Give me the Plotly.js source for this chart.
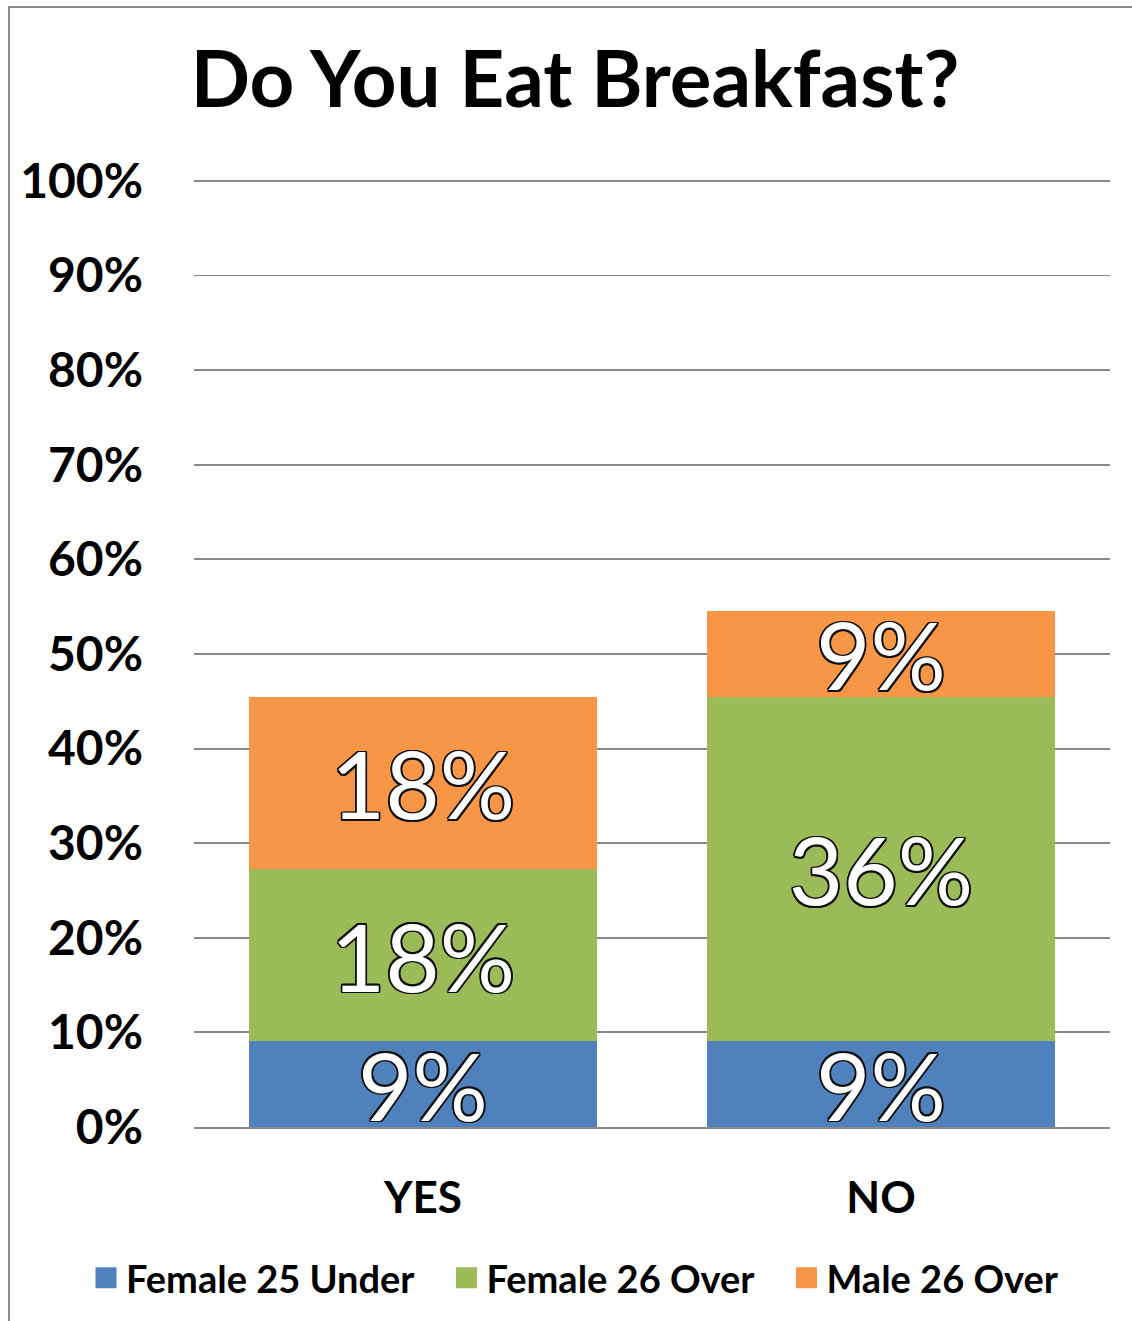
<!DOCTYPE html>
<html>
<head>
<meta charset="utf-8">
<script src="https://cdn.plot.ly/plotly-3.0.1.min.js"></script>
<style>
  html, body { margin: 0; padding: 0; background: #ffffff; overflow: hidden; }
  #chart { width: 1132px; height: 1321px; }
</style>
</head>
<body>
<div id="chart"></div>
<script>
// ---- data ----
const categories = ["YES", "NO"];
const female25Under = [0.0909, 0.0909];
const female26Over  = [0.1818, 0.3636];
const male26Over    = [0.1818, 0.0909];
const seriesNames   = ["Female 25 Under", "Female 26 Over", "Male 26 Over"];
const seriesColors  = ["#4F81BD", "#9BBB59", "#F79646"];
const titleText     = "Do You Eat Breakfast?";

const FONT = "Lato, 'Open Sans', sans-serif";
const outline = "-1.5px -1.5px 0 #111, 1.5px -1.5px 0 #111, -1.5px 1.5px 0 #111, 1.5px 1.5px 0 #111, 0 1.8px 0 #111, 0 -1.8px 0 #111, 1.8px 0 0 #111, -1.8px 0 0 #111";

const seriesValues = [female25Under, female26Over, male26Over];

const barTraces = seriesValues.map((vals, i) => ({
  type: "bar",
  name: seriesNames[i],
  x: categories,
  y: vals,
  marker: { color: seriesColors[i], line: { width: 0 } },
  texttemplate: "%{y:.0%}",
  textposition: "inside",
  insidetextanchor: "middle",
  constraintext: "none",
  textangle: 0,
  textfont: { family: FONT, size: 94, color: "#ffffff", shadow: outline },
  showlegend: false,
  hoverinfo: "skip"
}));

// legend entries with larger square swatches (extra non-breaking spaces widen the gaps between entries)
const PAD = "\u00A0\u00A0\u00A0";
const legendTraces = seriesNames.map((n, i) => ({
  type: "scatter",
  mode: "markers",
  name: i < seriesNames.length - 1 ? n + PAD : n,
  x: [null],
  y: [null],
  marker: { symbol: "square", size: 16, color: seriesColors[i], line: { color: seriesColors[i], width: 5 } },
  showlegend: true,
  hoverinfo: "skip"
}));

const W = 1132, H = 1321;
// wide margin area so the legend can span nearly the full width; the x-axis domain sets the plot box
const mL = 20, mR = 12, mT = 179, mB = 194;
const pw = W - mL - mR, ph = H - mT - mB;
const plotLeft = 194, plotRight = 1110;

const layout = {
  width: W,
  height: H,
  margin: { l: mL, r: mR, t: mT, b: mB, pad: 0 },
  paper_bgcolor: "#ffffff",
  plot_bgcolor: "#ffffff",
  barmode: "stack",
  bargap: 0.24,
  font: { family: FONT, color: "#000000" },
  title: {
    text: titleText,
    font: { family: FONT, size: 78, weight: 700, color: "#000000" },
    x: 575 / W,
    xanchor: "center",
    xref: "container",
    y: 1 - 80 / H,
    yref: "container",
    yanchor: "middle"
  },
  xaxis: {
    type: "category",
    domain: [(plotLeft - mL) / pw, (plotRight - mL) / pw],
    showgrid: false,
    showline: true,
    linecolor: "#898989",
    linewidth: 2,
    ticks: "",
    ticklabelstandoff: 31,
    tickfont: { family: FONT, size: 44, weight: 700, color: "#000000" },
    zeroline: false,
    fixedrange: true
  },
  yaxis: {
    range: [0, 1.002],
    dtick: 0.1,
    tick0: 0,
    tickformat: ".0%",
    showgrid: true,
    gridcolor: "#878787",
    gridwidth: 1.9,
    zeroline: false,
    showline: false,
    ticks: "",
    ticklabelstandoff: 50,
    tickfont: { family: FONT, size: 48, weight: 700, color: "#000000" },
    fixedrange: true
  },
  legend: {
    orientation: "h",
    traceorder: "normal",
    x: 575 / W,
    xref: "container",
    xanchor: "center",
    y: 1 - 1278 / H,
    yref: "container",
    yanchor: "middle",
    font: { family: FONT, size: 38, weight: 700, color: "#000000" },
    itemclick: false,
    itemdoubleclick: false,
    bgcolor: "rgba(0,0,0,0)"
  },
  shapes: [{
    type: "rect",
    xref: "paper", yref: "paper",
    x0: (9 - mL) / pw, x1: (W + 40 - mL) / pw,
    y0: -(H + 40 - mT - ph) / ph, y1: (mT + ph - 7) / ph,
    line: { color: "#8c8c8c", width: 2 },
    fillcolor: "rgba(0,0,0,0)",
    layer: "below"
  }],
  showlegend: true
};

Plotly.newPlot("chart", barTraces.concat(legendTraces), layout, { displayModeBar: false, staticPlot: true });
</script>
</body>
</html>
